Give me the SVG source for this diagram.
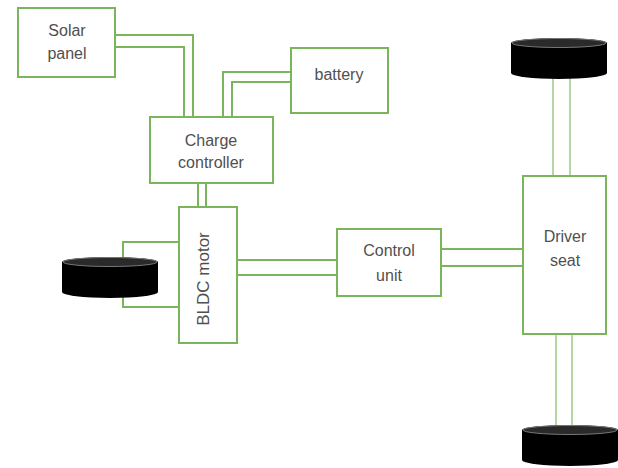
<svg xmlns="http://www.w3.org/2000/svg" width="618" height="468" viewBox="0 0 618 468">
<style>
.box{fill:#fff;stroke:#7ab55c;stroke-width:2}
.ln{fill:none;stroke:#7ab55c;stroke-width:2}
.ln2{fill:none;stroke:#9cc98a;stroke-width:1.5}
.t{font-family:"Liberation Sans",Arial,sans-serif;font-size:16px;fill:#505050;text-anchor:middle}
.wb{fill:#000}
.wt{fill:#2a2a2a;stroke:#777;stroke-width:1}
</style>
<defs>
<g id="wheel">
<path class="wb" d="M-48,0 A48,5 0 0 1 48,0 L48,30 A48,6 0 0 1 -48,30 Z"/>
<ellipse class="wt" cx="0" cy="0" rx="47" ry="4.5"/>
</g>
</defs>
<rect width="618" height="468" fill="#fff"/>
<g id="connectors">
<polyline class="ln" points="115,35 193,35 193,117"/>
<polyline class="ln" points="115,47 184,47 184,117"/>
<polyline class="ln" points="223,117 223,72 292,72"/>
<polyline class="ln" points="232,117 232,82 292,82"/>
<line class="ln" x1="198" y1="183" x2="198" y2="207"/>
<line class="ln" x1="206" y1="183" x2="206" y2="207"/>
<polyline class="ln" points="179,242 123,242 123,307 179,307"/>
<line class="ln" x1="237" y1="260" x2="337" y2="260"/>
<line class="ln" x1="237" y1="275" x2="337" y2="275"/>
<line class="ln" x1="441" y1="249" x2="525" y2="249"/>
<line class="ln" x1="441" y1="266" x2="525" y2="266"/>
<line class="ln2" x1="553" y1="78" x2="553" y2="176"/>
<line class="ln2" x1="570" y1="78" x2="570" y2="176"/>
<line class="ln2" x1="556" y1="334" x2="556" y2="426"/>
<line class="ln2" x1="572" y1="334" x2="572" y2="426"/>
</g>
<g id="solar-panel">
<rect class="box" x="18" y="8" width="97" height="69"/>
<text class="t" x="67" y="36">Solar</text>
<text class="t" x="67" y="59">panel</text>
</g>
<g id="battery">
<rect class="box" x="291" y="48" width="97" height="65"/>
<text class="t" x="339" y="80">battery</text>
</g>
<g id="charge-controller">
<rect class="box" x="150" y="117" width="123" height="66"/>
<text class="t" x="211" y="146">Charge</text>
<text class="t" x="211" y="168">controller</text>
</g>
<g id="bldc-motor">
<rect class="box" x="179" y="207" width="58" height="136"/>
<text class="t" style="font-size:17px" transform="translate(209,279) rotate(-90)">BLDC motor</text>
</g>
<g id="control-unit">
<rect class="box" x="337" y="229" width="104" height="67"/>
<text class="t" x="389" y="256">Control</text>
<text class="t" x="389" y="281">unit</text>
</g>
<g id="driver-seat">
<rect class="box" x="523" y="176" width="83" height="158"/>
<text class="t" x="565" y="242">Driver</text>
<text class="t" x="565" y="266">seat</text>
</g>
<g id="wheel-left">
<use href="#wheel" x="110" y="262"/>
</g>
<g id="wheel-top">
<use href="#wheel" x="559" y="43"/>
</g>
<g id="wheel-bottom">
<use href="#wheel" x="570" y="430"/>
</g>
</svg>
